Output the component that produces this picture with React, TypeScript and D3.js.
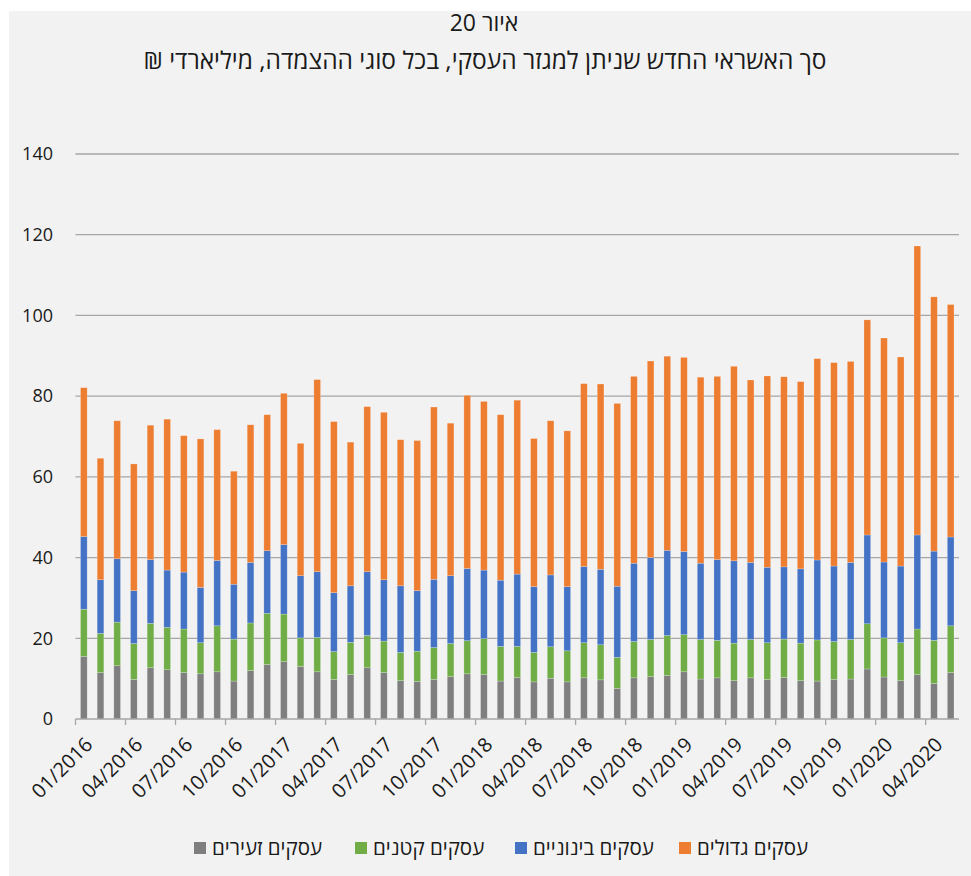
import React from "react";
import * as d3 from "d3";

const categories: string[] = (() => {
  const out: string[] = [];
  for (let y = 2016; y <= 2020; y++) {
    for (let m = 1; m <= 12; m++) {
      if (y === 2020 && m > 5) break;
      out.push(`${String(m).padStart(2, "0")}/${y}`);
    }
  }
  return out;
})();

// billions NIS
const micro = [15.5, 11.5, 13.2, 9.8, 12.7, 12.2, 11.5, 11.2, 11.7, 9.4, 12.0, 13.5, 14.2, 13.0, 11.7, 9.8, 11.0, 12.7, 11.5, 9.5, 9.3, 9.8, 10.5, 11.2, 11.0, 9.4, 10.3, 9.2, 10.1, 9.2, 10.2, 9.7, 7.6, 10.2, 10.5, 10.8, 11.7, 9.9, 10.2, 9.5, 10.2, 9.8, 10.3, 9.5, 9.4, 9.8, 9.9, 12.4, 10.4, 9.5, 11.0, 8.8, 11.5];
const small = [11.7, 9.7, 10.8, 8.9, 11.0, 10.5, 10.8, 7.7, 11.4, 10.4, 11.8, 12.7, 11.8, 7.1, 8.5, 6.9, 8.0, 8.0, 7.8, 7.0, 7.5, 7.9, 8.2, 8.2, 8.9, 8.6, 7.7, 7.3, 7.8, 7.7, 8.7, 8.7, 7.7, 9.0, 9.2, 9.9, 9.2, 9.8, 9.3, 9.3, 9.5, 9.1, 9.5, 9.3, 10.2, 9.4, 9.8, 11.2, 9.7, 9.4, 11.3, 10.7, 11.6];
const medium = [18.0, 13.3, 15.7, 13.1, 15.8, 14.2, 14.1, 13.7, 16.2, 13.6, 15.0, 15.5, 17.2, 15.4, 16.3, 14.6, 14.0, 15.8, 15.2, 16.5, 15.0, 16.9, 16.8, 17.9, 17.0, 16.4, 17.9, 16.3, 17.8, 15.9, 18.9, 18.7, 17.6, 19.4, 20.3, 21.1, 20.6, 18.9, 20.0, 20.4, 19.1, 18.7, 17.9, 18.4, 19.8, 18.7, 19.1, 22.0, 18.8, 19.0, 23.3, 22.1, 22.0];
const large = [36.9, 30.1, 34.2, 31.4, 33.3, 37.4, 33.8, 36.8, 32.4, 28.0, 34.1, 33.7, 37.5, 32.8, 47.6, 42.4, 35.6, 40.9, 41.5, 36.2, 37.2, 42.7, 37.8, 42.9, 41.8, 41.0, 43.1, 36.7, 38.2, 38.6, 45.3, 45.9, 45.3, 46.3, 48.7, 48.1, 48.1, 46.1, 45.4, 48.2, 45.2, 47.4, 47.1, 46.4, 49.9, 50.4, 49.8, 53.3, 55.5, 51.8, 71.6, 63.0, 57.6];

const seriesNames = ["עסקים זעירים", "עסקים קטנים", "עסקים בינוניים", "עסקים גדולים"];
const seriesColors = ["#7f7f7f", "#70ad47", "#4472c4", "#ed7d31"];
const yTicks = [0, 20, 40, 60, 80, 100, 120, 140];

const title = "איור 20";
const subtitle = "סך האשראי החדש שניתן למגזר העסקי, בכל סוגי ההצמדה, מיליארדי ₪";

const W = 971;
const H = 876;
const FONT = "'Open Sans', 'Liberation Sans', 'DejaVu Sans', sans-serif";

export default function App() {
  const rows = categories.map((c, i) => ({
    cat: c,
    s0: micro[i],
    s1: small[i],
    s2: medium[i],
    s3: large[i],
  }));
  const keys = ["s0", "s1", "s2", "s3"];
  const stacked = d3.stack<any>().keys(keys)(rows);

  const x = d3
    .scaleBand<string>()
    .domain(categories)
    .range([75.5, 959])
    .paddingInner(0.6)
    .paddingOuter(0.3);
  const y = d3.scaleLinear().domain([0, 140]).range([719, 154]);
  const step = x.step();
  const x0 = 75.5;

  const tickIdx = d3.range(0, categories.length, 3);

  // legend layout (left to right: micro, small, medium, large)
  const legendX = [194, 355, 515, 679];

  return (
    <svg
      width={W}
      height={H}
      style={{ position: "absolute", left: 0, top: 0, display: "block" }}
      fontFamily={FONT}
    >
      <rect x={0} y={0} width={W} height={H} fill="#ffffff" />
      <rect x={9} y={11} width={W - 9} height={H - 11} fill="#f2f2f2" />

      <text
        x={484}
        y={31}
        textAnchor="middle"
        fontSize={23}
        fill="#1a1a1a"
        style={{ direction: "rtl", unicodeBidi: "embed" }}
      >
        {title}
      </text>
      <text
        x={485}
        y={69}
        textAnchor="middle"
        fontSize={24.5}
        fill="#1a1a1a"
        style={{ direction: "rtl", unicodeBidi: "embed" }}
      >
        {subtitle}
      </text>

      {yTicks.map((t) => (
        <g key={t}>
          {t > 0 && (
            <line x1={75.5} x2={959} y1={y(t)} y2={y(t)} stroke="#a6a6a6" strokeWidth={1.3} />
          )}
          <text x={53} y={y(t)} dy="0.35em" textAnchor="end" fontSize={18} fill="#1a1a1a">
            {t}
          </text>
        </g>
      ))}

      {stacked.map((layer, si) => (
        <g key={si} fill={seriesColors[si]}>
          {layer.map((d, i) => (
            <rect
              key={i}
              x={x(categories[i])!}
              width={x.bandwidth()}
              y={y(d[1])}
              height={y(d[0]) - y(d[1])}
              stroke="#ffffff"
              strokeOpacity={0.35}
              strokeWidth={0.6}
            />
          ))}
        </g>
      ))}

      <line x1={75.5} x2={959} y1={719} y2={719} stroke="#a6a6a6" strokeWidth={1.5} />
      {tickIdx.map((i) => (
        <line
          key={i}
          x1={x0 + i * step}
          x2={x0 + i * step}
          y1={719}
          y2={725}
          stroke="#a6a6a6"
          strokeWidth={1.3}
        />
      ))}
      {tickIdx.map((i) => {
        const cx = x(categories[i])! + x.bandwidth() / 2;
        return (
          <text
            key={i}
            transform={`translate(${cx},${736}) rotate(-45)`}
            textAnchor="end"
            fontSize={20}
            dy="0.7em"
            fill="#1a1a1a"
          >
            {categories[i]}
          </text>
        );
      })}

      {seriesNames.map((n, i) => (
        <g key={n} transform={`translate(${legendX[i]},848)`}>
          <rect x={0} y={-6} width={12} height={12} fill={seriesColors[i]} />
          <text x={18} y={0} dy="0.35em" fontSize={20.5} fill="#1a1a1a">
            {n}
          </text>
        </g>
      ))}
    </svg>
  );
}
